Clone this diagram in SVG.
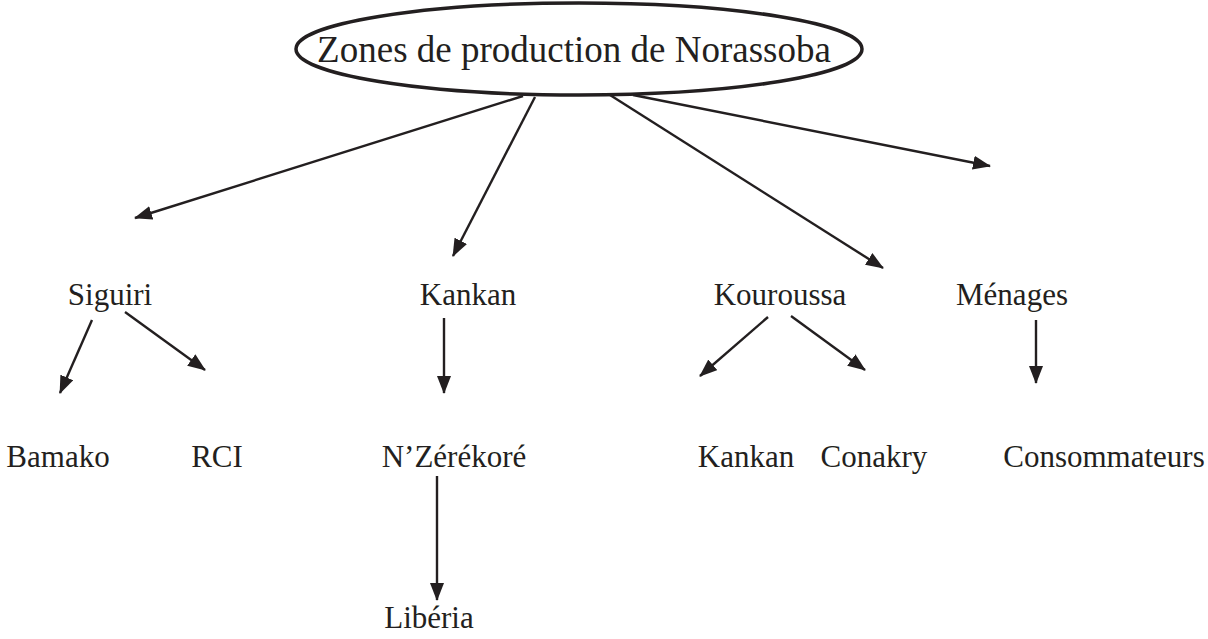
<svg xmlns="http://www.w3.org/2000/svg" width="1208" height="639" viewBox="0 0 1208 639">
<style>
text{font-family:"Liberation Serif","Times New Roman",serif;fill:#231f20;text-anchor:middle;font-size:31px}
.title{font-size:37px}
.c line{stroke:#231f20;stroke-width:2.4;marker-end:url(#ah)}
</style>
<defs>
<marker id="ah" markerUnits="userSpaceOnUse" markerWidth="18" markerHeight="14" refX="17" refY="7" orient="auto" viewBox="0 0 18 14">
<path d="M0,0 L18,7 L0,14 z" fill="#231f20"/>
</marker>
</defs>
<g id="root">
<ellipse cx="579" cy="49" rx="283" ry="46" fill="#fff" stroke="#231f20" stroke-width="3.5"/>
<text class="title" x="574" y="62">Zones de production de Norassoba</text>
</g>
<g id="siguiri"><text x="110" y="305">Siguiri</text></g>
<g id="kankan1"><text x="468" y="305">Kankan</text></g>
<g id="kouroussa"><text x="780" y="305">Kouroussa</text></g>
<g id="menages"><text x="1012" y="305">Ménages</text></g>
<g id="bamako"><text x="58" y="467">Bamako</text></g>
<g id="rci"><text x="217" y="467">RCI</text></g>
<g id="nzerekore"><text x="454" y="467">N’Zérékoré</text></g>
<g id="kankan2"><text x="746" y="467">Kankan</text></g>
<g id="conakry"><text x="874" y="467">Conakry</text></g>
<g id="consommateurs"><text x="1104" y="467">Consommateurs</text></g>
<g id="liberia"><text x="429" y="628">Libéria</text></g>
<g id="connectors" class="c">
<line x1="523" y1="96" x2="135" y2="218"/>
<line x1="535" y1="97" x2="453" y2="256"/>
<line x1="610" y1="95" x2="883" y2="268"/>
<line x1="633" y1="95" x2="990" y2="166"/>
<line x1="92" y1="320" x2="60" y2="393"/>
<line x1="125" y1="312" x2="205" y2="370"/>
<line x1="444" y1="318" x2="444" y2="393"/>
<line x1="768" y1="317" x2="700" y2="376"/>
<line x1="791" y1="316" x2="865" y2="370"/>
<line x1="1036" y1="320" x2="1036" y2="383"/>
<line x1="437" y1="476" x2="437" y2="600"/>
</g>
</svg>
